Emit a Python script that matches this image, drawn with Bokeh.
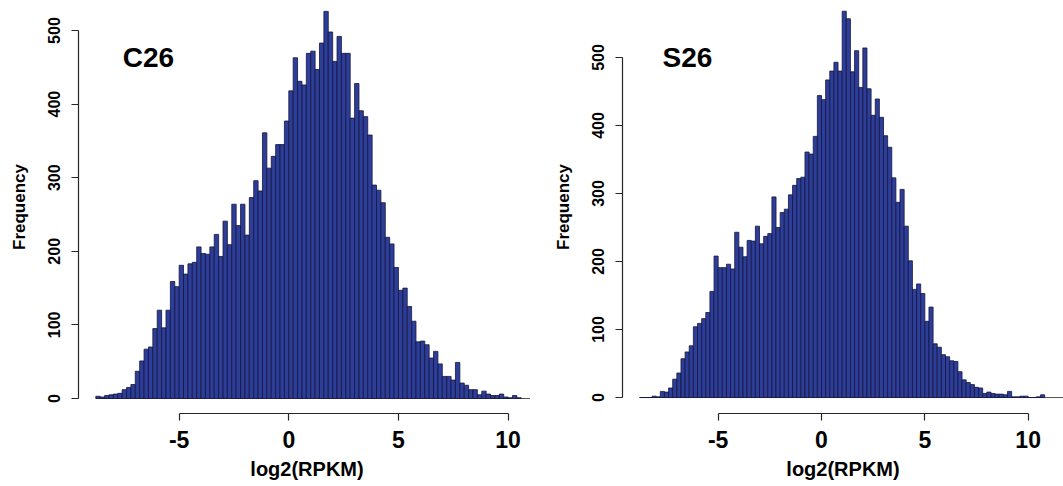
import numpy as np
from bokeh.plotting import figure
from bokeh.layouts import row
from bokeh.models import FixedTicker, Label, Range1d
from bokeh.embed import file_html
from bokeh.resources import INLINE

# ---- data ----
bin_start = -8.8
bin_width = 0.2

c26_counts = [3, 2, 4, 5, 6, 7, 12, 15, 19, 37,
              51, 67, 70, 95, 120, 96, 120, 159, 152, 181,
              169, 183, 185, 206, 197, 196, 206, 223, 193, 241,
              209, 264, 235, 264, 222, 273, 296, 282, 361, 313,
              329, 345, 345, 377, 418, 463, 431, 426, 469, 472,
              447, 483, 526, 498, 458, 492, 469, 469, 381, 428,
              391, 383, 358, 290, 283, 266, 219, 210, 178, 147,
              150, 125, 105, 77, 78, 73, 55, 64, 47, 30,
              30, 25, 49, 21, 18, 12, 12, 5, 10, 6,
              4, 4, 6, 2, 1, 4, 1]

s26_counts = [0, 0, 0, 2, 1, 9, 8, 14, 27, 36,
              57, 67, 76, 104, 109, 116, 125, 156, 208, 191,
              191, 196, 189, 243, 221, 207, 231, 230, 252, 226,
              237, 241, 295, 250, 272, 277, 298, 312, 322, 324,
              361, 358, 384, 444, 438, 467, 480, 493, 480, 568,
              557, 479, 510, 456, 514, 454, 415, 439, 412, 385,
              368, 323, 287, 306, 252, 201, 159, 167, 153, 112,
              133, 79, 74, 63, 60, 54, 53, 38, 26, 22,
              19, 15, 14, 6, 8, 6, 5, 5, 4, 9,
              1, 1, 2, 2, 0, 0, 1, 4]

x_ticks = [-5, 0, 5, 10]
x_tick_labels = ["-5", "0", "5", "10"]
y_ticks = [0, 100, 200, 300, 400, 500]
x_label = "log2(RPKM)"
y_label = "Frequency"

FONT = "Liberation Sans"
BAR_FILL = "#2c3e9a"
BAR_LINE = "#15153a"
AXIS_COL = "#262626"


def make_hist(counts, name, width, b_left, b_right, xr, yr, title_xy, base_end):
    counts = np.asarray(counts, dtype=float)
    left = bin_start + bin_width * np.arange(len(counts))
    right = left + bin_width
    p = figure(width=width, height=486, output_backend="svg", toolbar_location=None,
               x_range=Range1d(*xr), y_range=Range1d(*yr),
               min_border_left=b_left, min_border_right=b_right,
               min_border_top=0, min_border_bottom=73)
    p.background_fill_color = "white"
    p.border_fill_color = "white"
    p.outline_line_color = None
    p.grid.visible = False

    p.segment(x0=[bin_start], y0=[0], x1=[base_end], y1=[0],
              line_color="#555555", line_width=1)
    p.quad(left=left, right=right, bottom=0, top=counts,
           fill_color=BAR_FILL, line_color=BAR_LINE, line_width=0.8)

    xa = p.xaxis[0]
    xa.ticker = FixedTicker(ticks=x_ticks)
    xa.major_label_overrides = {t: s for t, s in zip(x_ticks, x_tick_labels)}
    xa.bounds = (x_ticks[0], x_ticks[-1])
    xa.minor_tick_line_color = None
    xa.major_tick_in = 0
    xa.major_tick_out = 7
    xa.axis_line_color = AXIS_COL
    xa.major_tick_line_color = AXIS_COL
    xa.axis_line_width = 1.2
    xa.major_tick_line_width = 1.2
    xa.major_label_text_font = FONT
    xa.major_label_text_font_style = "bold"
    xa.major_label_text_font_size = "23px"
    xa.major_label_text_color = "black"
    xa.major_label_standoff = 10
    xa.axis_label = x_label
    xa.axis_label_text_font = FONT
    xa.axis_label_text_font_style = "bold"
    xa.axis_label_text_font_size = "20px"
    xa.axis_label_text_color = "black"
    xa.axis_label_standoff = 7

    ya = p.yaxis[0]
    ya.ticker = FixedTicker(ticks=y_ticks)
    ya.bounds = (y_ticks[0], y_ticks[-1])
    ya.minor_tick_line_color = None
    ya.major_tick_in = 0
    ya.major_tick_out = 7
    ya.axis_line_color = AXIS_COL
    ya.major_tick_line_color = AXIS_COL
    ya.axis_line_width = 1.2
    ya.major_tick_line_width = 1.2
    ya.major_label_orientation = "vertical"
    ya.major_label_text_font = FONT
    ya.major_label_text_font_style = "bold"
    ya.major_label_text_font_size = "16px"
    ya.major_label_text_color = "black"
    ya.major_label_standoff = 11
    ya.axis_label = y_label
    ya.axis_label_text_font = FONT
    ya.axis_label_text_font_style = "bold"
    ya.axis_label_text_font_size = "17px"
    ya.axis_label_text_color = "black"
    ya.axis_label_standoff = 17

    p.add_layout(Label(x=title_xy[0], y=title_xy[1], text=name,
                       text_font=FONT, text_font_style="bold",
                       text_font_size="28px", text_color="black",
                       text_baseline="alphabetic", text_align="left"))
    return p


p1 = make_hist(c26_counts, "C26", 540, 78, 5,
               (-9.59, 11.25), (-20.4, 540.8), (-7.57, 463), 11.0)
p2 = make_hist(s26_counts, "S26", 523, 82, 0,
               (-9.63, 11.71), (-23.5, 583.8), (-7.69, 500), 11.71)

layout = row(p1, p2)
open("out.html", "w").write(file_html(layout, INLINE))
